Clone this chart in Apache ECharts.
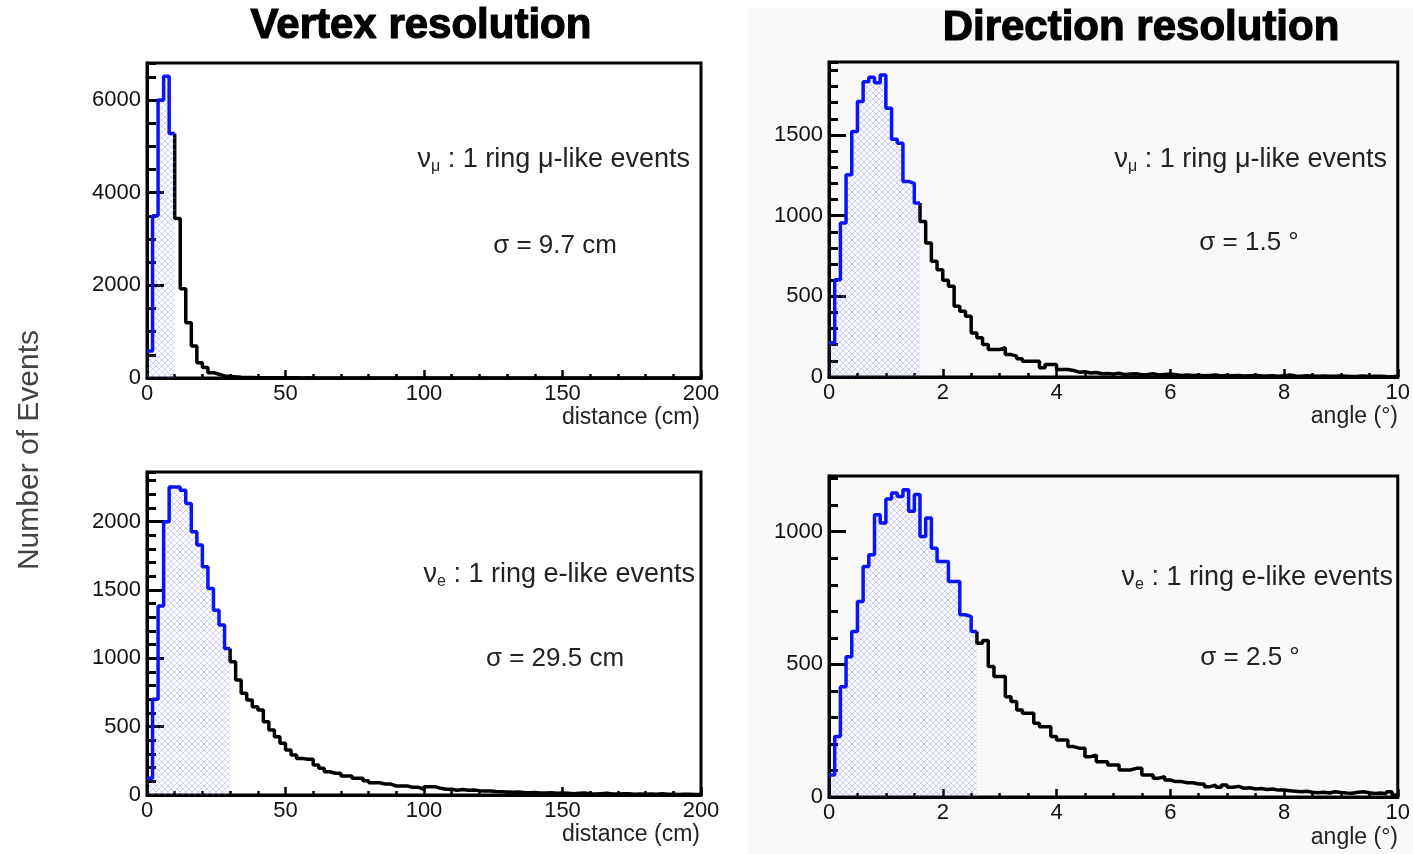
<!DOCTYPE html>
<html>
<head>
<meta charset="utf-8">
<script src="https://cdn.jsdelivr.net/npm/echarts@6/dist/echarts.min.js"></script>
<style>
html,body{margin:0;padding:0;background:#fff;}
#chart{width:1413px;height:854px;}
</style>
</head>
<body>
<div id="chart"></div>
<script>
// bin widths
const vtxBinWidth = 2;     // cm
const dirBinWidth = 0.1;   // degree

// vertex, numu 1 ring mu-like (2 cm bins from 0)
const vtxMuCounts = [
  585, 3500, 6000, 6515, 5280, 3440, 1925, 1190, 690, 330,
  225, 115, 80, 45, 35, 25, 18, 12, 10, 8,
  6, 5, 4, 5, 3, 4, 3, 2, 3, 2,
  2, 1, 2, 1, 1, 0, 1, 1, 0, 1,
  0, 0, 1, 0, 0, 0, 0, 1, 0, 0,
  0, 0, 0, 0, 0, 0, 0, 0, 0, 0,
  0, 0, 0, 0, 0, 0, 0, 0, 0, 0,
  0, 0, 0, 0, 0, 0, 0, 0, 0, 0,
  0, 0, 0, 0, 0, 0, 0, 0, 0, 0,
  0, 0, 0, 0, 0, 0, 0, 0, 0, 0
];
// vertex, nue 1 ring e-like
const vtxECounts = [
  122, 700, 1383, 2000, 2255, 2255, 2231, 2134, 1926, 1829,
  1670, 1512, 1353, 1244, 1073, 975, 841, 744, 695, 646,
  622, 536, 475, 426, 378, 329, 293, 268, 261, 261,
  219, 195, 170, 159, 159, 139, 139, 122, 122, 105,
  90, 90, 80, 80, 66, 66, 66, 56, 56, 42,
  61, 61, 49, 42, 42, 35, 40, 35, 37, 32,
  30, 30, 25, 24, 22, 20, 22, 18, 16, 18,
  15, 14, 16, 12, 14, 12, 10, 12, 14, 10,
  8, 10, 12, 8, 7, 9, 10, 6, 8, 6,
  7, 5, 9, 6, 5, 4, 6, 5, 3, 4
];
// direction, numu 1 ring mu-like (0.1 deg bins from 0)
const dirMuCounts = [
  212, 603, 954, 1253, 1521, 1707, 1830, 1857, 1824, 1872,
  1666, 1474, 1449, 1212, 1200, 1078, 964, 830, 717, 665,
  600, 562, 438, 407, 376, 273, 243, 201, 170, 170,
  181, 139, 129, 113, 98, 98, 98, 57, 77, 77,
  46, 46, 40, 30, 32, 25, 28, 20, 22, 18,
  24, 15, 18, 20, 14, 16, 20, 12, 15, 18,
  14, 10, 12, 9, 11, 8, 10, 12, 7, 9,
  8, 10, 6, 8, 9, 7, 6, 8, 5, 7,
  12, 6, 5, 7, 6, 4, 6, 5, 4, 6,
  5, 3, 4, 6, 3, 4, 5, 3, 2, 4
];
// direction, nue 1 ring e-like
const dirECounts = [
  83, 228, 416, 529, 624, 737, 869, 913, 1064, 1033,
  1123, 1146, 1133, 1158, 1077, 1140, 982, 1052, 938, 888,
  888, 812, 812, 687, 680, 624, 580, 590, 492, 454,
  454, 378, 360, 328, 316, 316, 278, 265, 265, 228,
  215, 215, 190, 184, 184, 152, 158, 133, 133, 121,
  121, 102, 102, 108, 108, 83, 83, 71, 77, 64,
  58, 58, 54, 54, 49, 49, 39, 45, 37, 45,
  37, 40, 33, 35, 30, 32, 28, 30, 26, 26,
  24, 22, 20, 22, 18, 16, 18, 15, 20, 17,
  15, 14, 18, 20, 16, 13, 15, 12, 20, 8
];

// number of bins shaded (inside sigma)
const vtxMuCut = 5;
const vtxECut = 15;
const dirMuCut = 16;
const dirECut = 26;

const xTicks = { vtx: [0, 50, 100, 150, 200], dir: [0, 2, 4, 6, 8, 10] };

// histogram -> step line points
function stepPts(counts, w, from, to) {
  const pts = [];
  if (from > 0) pts.push([from * w, counts[from - 1]]);
  for (let i = from; i < to; i++) pts.push([i * w, counts[i]]);
  pts.push([to * w, counts[to - 1]]);
  return pts;
}

function hatch() {
  const c = document.createElement('canvas');
  c.width = 6; c.height = 6;
  const g = c.getContext('2d');
  g.strokeStyle = 'rgba(120,130,255,0.35)';
  g.lineWidth = 1;
  g.beginPath();
  g.moveTo(0, 0); g.lineTo(6, 6);
  g.moveTo(6, 0); g.lineTo(0, 6);
  g.stroke();
  return c;
}
const hatchImg = hatch();

const panels = [
  { grid: { left: 147, top: 63, width: 554, height: 315 }, counts: vtxMuCounts, w: vtxBinWidth, cut: vtxMuCut,
    ticks: xTicks.vtx, xMinor: 5, yMax: 6799, yMajor: 2000, yMinor: 500 },
  { grid: { left: 829, top: 62, width: 569, height: 315 }, counts: dirMuCounts, w: dirBinWidth, cut: dirMuCut,
    ticks: xTicks.dir, xMinor: 4, yMax: 1952, yMajor: 500, yMinor: 100 },
  { grid: { left: 147, top: 472, width: 554, height: 323 }, counts: vtxECounts, w: vtxBinWidth, cut: vtxECut,
    ticks: xTicks.vtx, xMinor: 5, yMax: 2364, yMajor: 500, yMinor: 100 },
  { grid: { left: 829, top: 476, width: 569, height: 321 }, counts: dirECounts, w: dirBinWidth, cut: dirECut,
    ticks: xTicks.dir, xMinor: 4, yMax: 1210, yMajor: 500, yMinor: 100 }
];

const font = 'Liberation Sans';
const grids = [], xAxes = [], yAxes = [], series = [];

panels.forEach((p, k) => {
  grids.push(Object.assign({ show: true, borderColor: '#000', borderWidth: 3, backgroundColor: 'transparent' }, p.grid));
  const last = p.ticks[p.ticks.length - 1];
  xAxes.push({
    type: 'value', gridIndex: k, min: 0, max: last, interval: p.ticks[1] - p.ticks[0],
    axisLine: { lineStyle: { color: '#000', width: 3 } },
    axisTick: { inside: true, length: 8, lineStyle: { color: '#000', width: 2.5 } },
    minorTick: { show: true, splitNumber: p.xMinor, length: 4, lineStyle: { color: '#000', width: 2.5 } },
    axisLabel: { fontSize: 22, color: '#111', margin: 5, fontFamily: font },
    splitLine: { show: false }
  });
  // long ticks + labels
  yAxes.push({
    type: 'value', gridIndex: k, position: 'left', min: 0, max: p.yMax, interval: p.yMajor,
    axisLine: { lineStyle: { color: '#000', width: 3 } },
    axisTick: { inside: true, length: 17, lineStyle: { color: '#000', width: 3 } },
    axisLabel: { fontSize: 22, color: '#111', margin: 6, fontFamily: font, showMaxLabel: false,
      formatter: v => (v % p.yMajor === 0 ? String(v) : '') },
    splitLine: { show: false }
  });
  // short ticks
  yAxes.push({
    type: 'value', gridIndex: k, position: 'left', min: 0, max: p.yMax, interval: p.yMinor,
    axisLine: { show: false },
    axisTick: { inside: true, length: 9, lineStyle: { color: '#000', width: 3 } },
    axisLabel: { show: false },
    splitLine: { show: false }
  });

  // shaded part (blue)
  series.push({
    type: 'line', xAxisIndex: k, yAxisIndex: 2 * k, step: 'end', symbol: 'none', z: 3,
    data: stepPts(p.counts, p.w, 0, p.cut),
    lineStyle: { color: '#0a14f5', width: 3.5 },
    areaStyle: { color: { image: hatchImg, repeat: 'repeat' }, opacity: 1 }
  });
  // rest (black)
  series.push({
    type: 'line', xAxisIndex: k, yAxisIndex: 2 * k, step: 'end', symbol: 'none', z: 2,
    data: stepPts(p.counts, p.w, p.cut, p.counts.length),
    lineStyle: { color: '#000', width: 3.5 }
  });
});

function txt(x, y, text, size, align, extra) {
  return { type: 'text', x: x, y: y, z: 10,
    style: Object.assign({ text: text, align: align || 'center', verticalAlign: 'middle',
      fontSize: size, fontFamily: font, fill: '#222' }, extra || {}) };
}
function nuLabel(x, y, sub, rest) {
  return txt(x, y, '{a|ν}{s|' + sub + '}{a| : 1 ring ' + rest + '-like events}', 27, 'right', {
    rich: {
      a: { fontSize: 27, fontFamily: font, fill: '#222', lineHeight: 30 },
      s: { fontSize: 16, fontFamily: font, fill: '#222', verticalAlign: 'bottom', lineHeight: 15, padding: [15, 0, 0, 0] }
    }
  });
}
const titleStyle = { fontWeight: 'bold', fill: '#000', stroke: '#000', lineWidth: 1.2 };

const chart = echarts.init(document.getElementById('chart'));
chart.setOption({
  animation: false,
  backgroundColor: '#fff',
  grid: grids,
  xAxis: xAxes,
  yAxis: yAxes,
  series: series,
  graphic: [
    { type: 'rect', z: -10, shape: { x: 748, y: 8, width: 665, height: 846 }, style: { fill: '#f9f9f9' } },
    txt(421, 26, 'Vertex resolution', 42, 'center', titleStyle),
    txt(1141, 28, 'Direction resolution', 42, 'center', titleStyle),
    Object.assign(txt(30, 450, 'Number of Events', 30, 'center', { fill: '#444' }), { rotation: Math.PI / 2 }),
    nuLabel(690, 160, 'μ', 'μ'),
    txt(555, 246, 'σ = 9.7 cm', 26),
    nuLabel(1387, 160, 'μ', 'μ'),
    txt(1249, 243, 'σ = 1.5 °', 26),
    nuLabel(695, 575, 'e', 'e'),
    txt(555, 659, 'σ = 29.5 cm', 26),
    nuLabel(1393, 578, 'e', 'e'),
    txt(1250, 658, 'σ = 2.5 °', 26),
    txt(700, 418, 'distance (cm)', 23, 'right'),
    txt(700, 835, 'distance (cm)', 23, 'right'),
    txt(1398, 417, 'angle (°)', 23, 'right'),
    txt(1398, 838, 'angle (°)', 23, 'right')
  ]
});
</script>
</body>
</html>
